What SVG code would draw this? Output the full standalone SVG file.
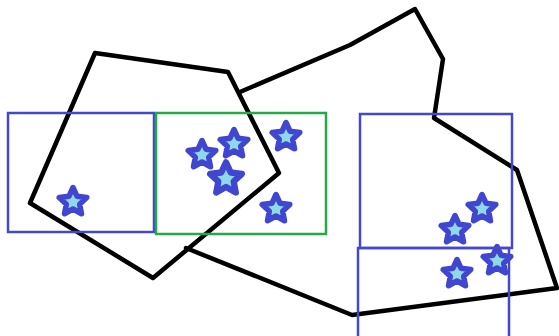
<svg xmlns="http://www.w3.org/2000/svg" width="559" height="336" viewBox="0 0 559 336">
<style>
.ln{fill:none;stroke:#000;stroke-width:4.5;stroke-linejoin:round;stroke-linecap:round}
.bx{fill:none;stroke:#4448cc;stroke-width:2.5}
.gx{fill:none;stroke:#22aa44;stroke-width:2.5}
.st{fill:#8ed8e8;stroke:#4146d0;stroke-width:5.5;stroke-linejoin:round}
</style>
<defs>
<path id="star" d="M0,-14.5 L4.11,-5.66 L13.79,-4.48 L6.66,2.16 L8.52,11.73 L0,7 L-8.52,11.73 L-6.66,2.16 L-13.79,-4.48 L-4.11,-5.66 Z"/>
</defs>
<rect width="559" height="336" fill="#fff"/>
<g id="connectors">
<polygon id="pentagon" class="ln" points="95,53 228,72 279,173 153,278 30,203"/>
<polyline id="outline" class="ln" points="240,92 350,45 415,9 443,59 434,118 517,170 557,288 352,315 186,248"/>
</g>
<g id="stars">
<use href="#star" class="st" x="73" y="202"/>
<use href="#star" class="st" x="202" y="155"/>
<use href="#star" class="st" x="234" y="144"/>
<use href="#star" class="st" transform="translate(226,179) scale(1.15)"/>
<use href="#star" class="st" x="286" y="137"/>
<use href="#star" class="st" x="276" y="209"/>
<use href="#star" class="st" x="482" y="209"/>
<use href="#star" class="st" x="455" y="230"/>
<use href="#star" class="st" x="497" y="261"/>
<use href="#star" class="st" x="457" y="274"/>
</g>
<g id="box1"><rect class="bx" x="8" y="113" width="146" height="119"/></g>
<g id="box2"><rect class="gx" x="156" y="113" width="170" height="121"/></g>
<g id="box3"><rect class="bx" x="360" y="114" width="152" height="134"/></g>
<g id="box4"><rect class="bx" x="358" y="248" width="151" height="100"/></g>
</svg>
